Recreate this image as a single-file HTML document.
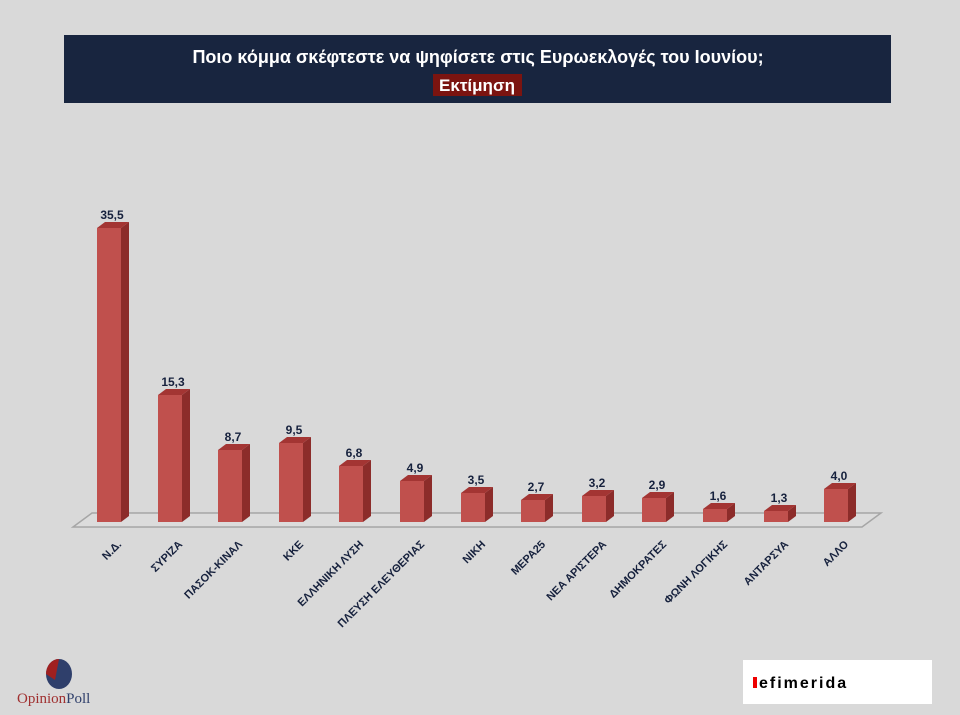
<!DOCTYPE html>
<html><head><meta charset="utf-8"><style>
body{margin:0;background:#d9d9d9;}
svg{display:block}
</style></head><body>
<svg width="960" height="715" viewBox="0 0 960 715" xmlns="http://www.w3.org/2000/svg" font-family="'Liberation Sans','DejaVu Sans',sans-serif">
<rect width="960" height="715" fill="#d9d9d9"/>
<rect x="64" y="35" width="827" height="68" fill="#18253f"/>
<text x="478" y="63" fill="#fff" font-size="18" font-weight="bold" text-anchor="middle">Ποιο κόμμα σκέφτεστε να ψηφίσετε στις Ευρωεκλογές του Ιουνίου;</text>
<rect x="433" y="74" width="89" height="22" fill="#7b1410"/>
<text x="477" y="91" fill="#fff" font-size="17" font-weight="bold" text-anchor="middle">Εκτίμηση</text>
<polygon points="73,527 862,527 881,513 92,513" fill="#dcdcdc" stroke="#a6a6a6" stroke-width="1.5"/>

<g fill="#16213d" font-weight="bold">
<g transform="translate(97,0)"><polygon points="24,228 32,222 32,516 24,522" fill="#8c2c2a"/><polygon points="0,228 8,222 32,222 24,228" fill="#a33533"/><rect x="0" y="228" width="24" height="294" fill="#c0504d"/><text x="15" y="219" font-size="12" text-anchor="middle">35,5</text><text transform="translate(25,545) rotate(-45)" font-size="11" text-anchor="end">Ν.Δ.</text></g>
<g transform="translate(158,0)"><polygon points="24,395 32,389 32,516 24,522" fill="#8c2c2a"/><polygon points="0,395 8,389 32,389 24,395" fill="#a33533"/><rect x="0" y="395" width="24" height="127" fill="#c0504d"/><text x="15" y="386" font-size="12" text-anchor="middle">15,3</text><text transform="translate(25,545) rotate(-45)" font-size="11" text-anchor="end">ΣΥΡΙΖΑ</text></g>
<g transform="translate(218,0)"><polygon points="24,450 32,444 32,516 24,522" fill="#8c2c2a"/><polygon points="0,450 8,444 32,444 24,450" fill="#a33533"/><rect x="0" y="450" width="24" height="72" fill="#c0504d"/><text x="15" y="441" font-size="12" text-anchor="middle">8,7</text><text transform="translate(25,545) rotate(-45)" font-size="11" text-anchor="end">ΠΑΣΟΚ-ΚΙΝΑΛ</text></g>
<g transform="translate(279,0)"><polygon points="24,443 32,437 32,516 24,522" fill="#8c2c2a"/><polygon points="0,443 8,437 32,437 24,443" fill="#a33533"/><rect x="0" y="443" width="24" height="79" fill="#c0504d"/><text x="15" y="434" font-size="12" text-anchor="middle">9,5</text><text transform="translate(25,545) rotate(-45)" font-size="11" text-anchor="end">ΚΚΕ</text></g>
<g transform="translate(339,0)"><polygon points="24,466 32,460 32,516 24,522" fill="#8c2c2a"/><polygon points="0,466 8,460 32,460 24,466" fill="#a33533"/><rect x="0" y="466" width="24" height="56" fill="#c0504d"/><text x="15" y="457" font-size="12" text-anchor="middle">6,8</text><text transform="translate(25,545) rotate(-45)" font-size="11" text-anchor="end">ΕΛΛΗΝΙΚΗ ΛΥΣΗ</text></g>
<g transform="translate(400,0)"><polygon points="24,481 32,475 32,516 24,522" fill="#8c2c2a"/><polygon points="0,481 8,475 32,475 24,481" fill="#a33533"/><rect x="0" y="481" width="24" height="41" fill="#c0504d"/><text x="15" y="472" font-size="12" text-anchor="middle">4,9</text><text transform="translate(25,545) rotate(-45)" font-size="11" text-anchor="end">ΠΛΕΥΣΗ ΕΛΕΥΘΕΡΙΑΣ</text></g>
<g transform="translate(461,0)"><polygon points="24,493 32,487 32,516 24,522" fill="#8c2c2a"/><polygon points="0,493 8,487 32,487 24,493" fill="#a33533"/><rect x="0" y="493" width="24" height="29" fill="#c0504d"/><text x="15" y="484" font-size="12" text-anchor="middle">3,5</text><text transform="translate(25,545) rotate(-45)" font-size="11" text-anchor="end">ΝΙΚΗ</text></g>
<g transform="translate(521,0)"><polygon points="24,500 32,494 32,516 24,522" fill="#8c2c2a"/><polygon points="0,500 8,494 32,494 24,500" fill="#a33533"/><rect x="0" y="500" width="24" height="22" fill="#c0504d"/><text x="15" y="491" font-size="12" text-anchor="middle">2,7</text><text transform="translate(25,545) rotate(-45)" font-size="11" text-anchor="end">ΜΕΡΑ25</text></g>
<g transform="translate(582,0)"><polygon points="24,496 32,490 32,516 24,522" fill="#8c2c2a"/><polygon points="0,496 8,490 32,490 24,496" fill="#a33533"/><rect x="0" y="496" width="24" height="26" fill="#c0504d"/><text x="15" y="487" font-size="12" text-anchor="middle">3,2</text><text transform="translate(25,545) rotate(-45)" font-size="11" text-anchor="end">ΝΕΑ ΑΡΙΣΤΕΡΑ</text></g>
<g transform="translate(642,0)"><polygon points="24,498 32,492 32,516 24,522" fill="#8c2c2a"/><polygon points="0,498 8,492 32,492 24,498" fill="#a33533"/><rect x="0" y="498" width="24" height="24" fill="#c0504d"/><text x="15" y="489" font-size="12" text-anchor="middle">2,9</text><text transform="translate(25,545) rotate(-45)" font-size="11" text-anchor="end">ΔΗΜΟΚΡΑΤΕΣ</text></g>
<g transform="translate(703,0)"><polygon points="24,509 32,503 32,516 24,522" fill="#8c2c2a"/><polygon points="0,509 8,503 32,503 24,509" fill="#a33533"/><rect x="0" y="509" width="24" height="13" fill="#c0504d"/><text x="15" y="500" font-size="12" text-anchor="middle">1,6</text><text transform="translate(25,545) rotate(-45)" font-size="11" text-anchor="end">ΦΩΝΗ ΛΟΓΙΚΗΣ</text></g>
<g transform="translate(764,0)"><polygon points="24,511 32,505 32,516 24,522" fill="#8c2c2a"/><polygon points="0,511 8,505 32,505 24,511" fill="#a33533"/><rect x="0" y="511" width="24" height="11" fill="#c0504d"/><text x="15" y="502" font-size="12" text-anchor="middle">1,3</text><text transform="translate(25,545) rotate(-45)" font-size="11" text-anchor="end">ΑΝΤΑΡΣΥΑ</text></g>
<g transform="translate(824,0)"><polygon points="24,489 32,483 32,516 24,522" fill="#8c2c2a"/><polygon points="0,489 8,483 32,483 24,489" fill="#a33533"/><rect x="0" y="489" width="24" height="33" fill="#c0504d"/><text x="15" y="480" font-size="12" text-anchor="middle">4,0</text><text transform="translate(25,545) rotate(-45)" font-size="11" text-anchor="end">ΑΛΛΟ</text></g>
</g>

<ellipse cx="59" cy="674" rx="13" ry="15" fill="#2f3f6b"/>
<path d="M59,659 A13,15 0 0 0 46,674 L55,680 Z" fill="#a02020"/>
<text x="17" y="703" font-family="'Liberation Serif',serif" font-size="15" fill="#a03030">Opinion<tspan fill="#2f3f6b">Poll</tspan></text>
<rect x="743" y="660" width="189" height="44" fill="#fff"/>
<rect x="753" y="677" width="4" height="11" fill="#e00"/>
<text x="759" y="688" font-size="16" font-weight="bold" fill="#000" letter-spacing="2">efimerida</text>
</svg>
</body></html>
